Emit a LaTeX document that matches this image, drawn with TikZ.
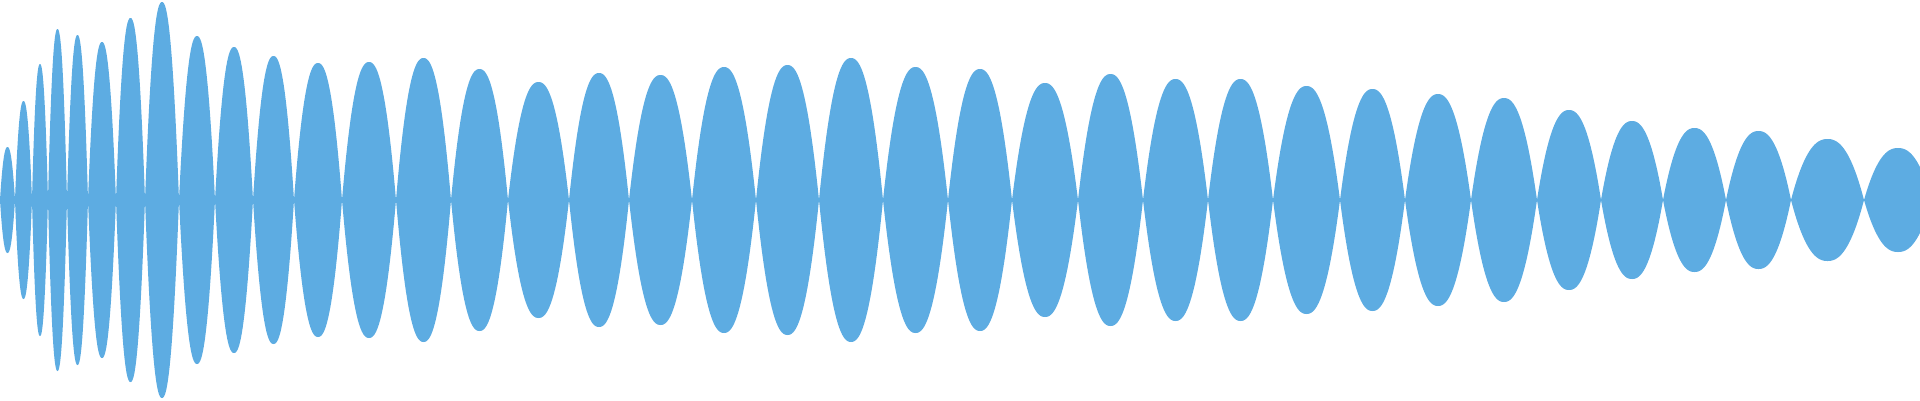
\documentclass[tikz,border=0pt]{standalone}
\definecolor{wave}{HTML}{5DACE2}
\begin{document}
\begin{tikzpicture}[x=0.1mm,y=0.1mm]
\useasboundingbox (0,-200) rectangle (1920,200);
\clip (0,-200) rectangle (1920,200);
\foreach \a/\b/\c in {0/15/53,15/32/99,32/48/136,48/67/171,67/88/165,88/116/158,116/145/182,145/179/198,179/215/164,215/253/153,253/294/144,294/342/137,342/396/138,396/451/142,451/508/131,508/569/118,569/629/127,629/692/125,692/756/133,756/819/135,819/883/142,883/948/133,948/1012/131,1012/1078/117,1078/1143/126,1143/1208/121,1208/1273/121,1273/1340/114,1340/1405/111,1405/1471/106,1471/1537/102,1537/1601/90,1601/1663/79,1663/1726/72,1726/1791/69,1791/1864/61,1864/1932/52}{
  \fill[wave] plot[domain=-1:1,samples=45] ({(\a+\b)/2+(\b-\a)*\x/2},{\c*(1-pow(abs(\x),2.3))}) -- plot[domain=1:-1,samples=45] ({(\a+\b)/2+(\b-\a)*\x/2},{-\c*(1-pow(abs(\x),2.3))}) -- cycle;
}
\fill[wave] (0,-4) rectangle (150,4);
\end{tikzpicture}
\end{document}
